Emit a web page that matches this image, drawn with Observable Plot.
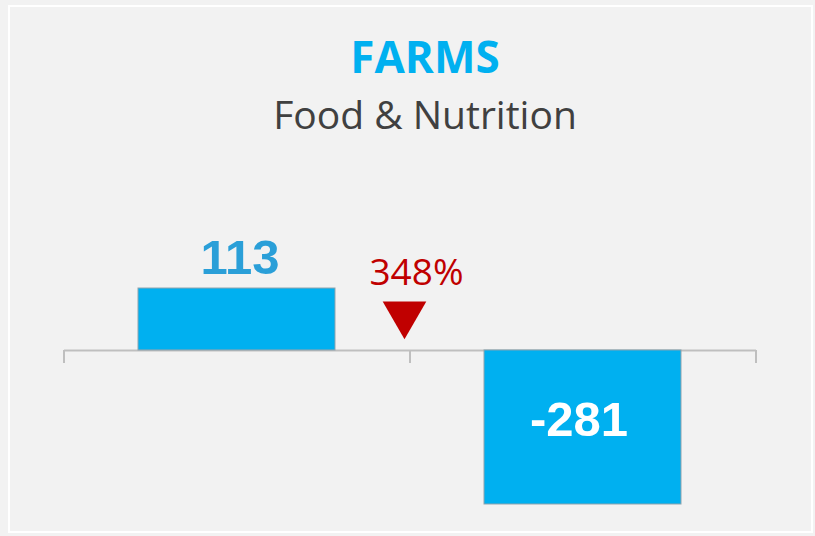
<!DOCTYPE html>
<html>
<head>
<meta charset="utf-8">
<script src="https://cdn.jsdelivr.net/npm/d3@7"></script>
<script src="https://cdn.jsdelivr.net/npm/@observablehq/plot@0.6"></script>
<style>
  html, body { margin: 0; padding: 0; background: #f2f2f2; }
  #wrap { position: relative; width: 815px; height: 536px; overflow: hidden; background: #f2f2f2; }
  #border { position: absolute; left: 8px; top: 5px; width: 801px; height: 524px; border: 2px solid #ffffff; pointer-events: none; }
  #header { position: relative; height: 150px; }
  #title { position: absolute; left: 0; top: 34px; width: 850px; text-align: center; font-family: "Open Sans", sans-serif; font-weight: 700; font-size: 44px; line-height: 1; color: #00b0f0; }
  #subtitle { position: absolute; left: 0; top: 94px; width: 850px; text-align: center; font-family: "Open Sans", sans-serif; font-weight: 400; font-size: 39px; line-height: 1; color: #404040; }
  #chart svg { display: block; }
</style>
</head>
<body>
<div id="wrap">
  <div id="border"></div>
  <div id="header">
    <div id="title"></div>
    <div id="subtitle"></div>
  </div>
  <div id="chart"></div>
</div>
<script>
// ---- data ----
const titleText = "FARMS";
const subtitleText = "Food & Nutrition";
const categories = ["Period 1", "Period 2"];
const values = [113, -281];
const changeLabels = ["348%"];
const changeDirection = ["down"];

document.getElementById("title").textContent = titleText;
document.getElementById("subtitle").textContent = subtitleText;

const data = categories.map((c, i) => ({cat: c, value: values[i], label: String(values[i])}));

const width = 815, height = 386;
const marginLeft = 64, marginRight = 59, marginTop = 138, marginBottom = 32;
const paddingInner = 0.43, paddingOuter = 0.215;
const step = (width - marginLeft - marginRight) / (categories.length - paddingInner + 2 * paddingOuter);
const yDomain = d3.extent(values);
const pxPerUnit = (height - marginTop - marginBottom) / (yDomain[1] - yDomain[0]);
const tickPx = 13;

const axisColor = "#bfbfbf";
const barColor = "#00b0f0";
const red = "#c00000";

const last = categories[categories.length - 1];
const first = categories[0];

const plot = Plot.plot({
  width, height, marginLeft, marginRight, marginTop, marginBottom,
  style: {background: "transparent", overflow: "visible"},
  x: {type: "band", domain: categories, paddingInner, paddingOuter, axis: null},
  y: {domain: yDomain, axis: null},
  marks: [
    // axis line and separator ticks
    Plot.ruleY([0], {stroke: axisColor, strokeWidth: 2}),
    Plot.ruleX(categories, {x: d => d, y1: 0, y2: -tickPx / pxPerUnit, dx: -step / 2, stroke: axisColor, strokeWidth: 2}),
    Plot.ruleX([last], {x: d => d, y1: 0, y2: -tickPx / pxPerUnit, dx: step / 2, stroke: axisColor, strokeWidth: 2}),
    // bars
    Plot.barY(data, {x: "cat", y: "value", fill: barColor, stroke: "#8fa3ad", strokeWidth: 1}),
    // value labels
    Plot.text(data.filter(d => d.value >= 0), {
      x: "cat", y: "value", text: "label", dy: -15, dx: 3, lineAnchor: "bottom",
      fill: "#2a9fd8", fontSize: 49, fontWeight: "bold", fontFamily: "Liberation Sans, Arial, sans-serif"
    }),
    Plot.text(data.filter(d => d.value < 0), {
      x: "cat", y: d => d.value / 2, text: "label", dy: -7, dx: -4, lineAnchor: "middle",
      fill: "#ffffff", fontSize: 49, fontWeight: "bold", fontFamily: "Liberation Sans, Arial, sans-serif"
    }),
    // change annotation
    Plot.text(changeLabels, {
      x: () => first, y: () => 0, text: d => d, dx: step / 2 + 6.5, dy: -65, lineAnchor: "bottom",
      fill: red, fontSize: 37, fontFamily: "Open Sans, sans-serif"
    }),
    Plot.dot(changeDirection, {
      x: () => first, y: () => 0, dx: step / 2 - 5.5, dy: -36.4,
      symbol: "triangle", rotate: d => d === "down" ? 180 : 0, r: 16.2, fill: red, stroke: "none"
    })
  ]
});
document.getElementById("chart").appendChild(plot);
</script>
</body>
</html>
